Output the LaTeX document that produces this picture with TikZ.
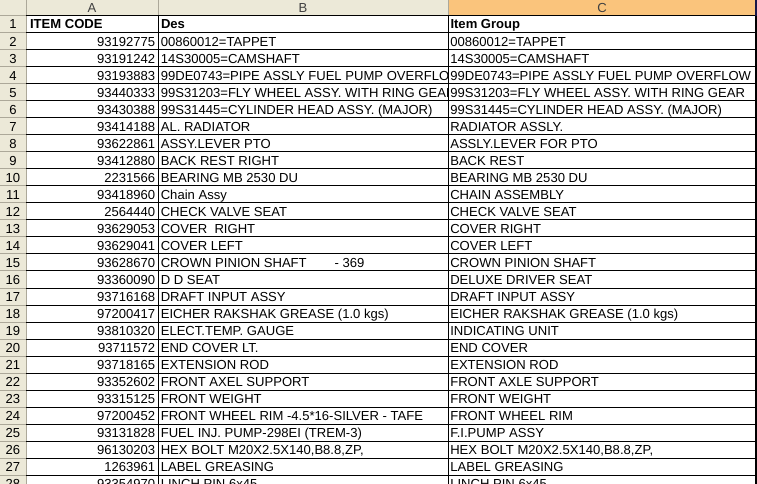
\documentclass[tikz,border=0pt]{standalone}
\usepackage{fontspec}
\setmainfont{Liberation Sans}
\definecolor{hdrgray}{RGB}{236,233,216}
\definecolor{hdrline}{RGB}{172,168,153}
\definecolor{selorange}{RGB}{250,196,124}
\definecolor{selnavy}{RGB}{24,24,72}
\begin{document}
\begin{tikzpicture}[x=0.75pt,y=-0.75pt,line width=0.75pt,
  every node/.style={inner sep=0pt,font=\fontsize{9.8}{11}\selectfont},
  headcell/.style={anchor=base west,font=\fontsize{9.8}{11}\selectfont\bfseries},
  hdrsep/.style={draw=hdrline}]
\pgfmathsetmacro{\hd}{15.7}
\pgfmathsetmacro{\rh}{17.02}
\pgfmathsetmacro{\bl}{13.3}
\useasboundingbox (0,0) rectangle (757,484);
\clip (0,0) rectangle (757,484);
\fill[hdrgray] (0,0) rectangle (757,\hd);
\fill[hdrgray] (0,0) rectangle (26,484);
\fill[selorange] (448,0) rectangle (757,\hd);
\draw[hdrsep] (26,0)--++(0,484) (158,0)--++(0,\hd) (448,0)--++(0,\hd);
\draw (158,\hd)--(158,484) (448,\hd)--(448,484);
\foreach \n in {1,...,28}{
  \pgfmathsetmacro{\yt}{\hd+(\n-1)*\rh}
  \draw[hdrsep] (0,\yt)--++(26,0);
  \draw (26,\yt)--(757,\yt);
  \node[anchor=base] (row-\n) at (13,\yt+\bl) {\n};
}
\draw[line width=1.5pt] (756,\hd)--(756,484);
\draw[selnavy,line width=1.5pt] (756,0)--(756,\hd);
\node[text=black!75] (colA) at (92,8) {A};
\node[text=black!75] (colB) at (303,8) {B};
\node[text=black!75] (colC) at (602,8) {C};
\node[headcell] (code-1) at (29.5,\hd+\bl) {ITEM CODE};
\node[headcell] (des-1) at (160.5,\hd+\bl) {Des};
\node[headcell] (grp-1) at (450,\hd+\bl) {Item Group};
\foreach \n/\code/\des/\grp in {
  2/93192775/00860012=TAPPET/00860012=TAPPET,
  3/93191242/14S30005=CAMSHAFT/14S30005=CAMSHAFT,
  4/93193883/99DE0743=PIPE ASSLY FUEL PUMP OVERFLOW/99DE0743=PIPE ASSLY FUEL PUMP OVERFLOW,
  5/93440333/99S31203=FLY WHEEL ASSY. WITH RING GEAR/99S31203=FLY WHEEL ASSY. WITH RING GEAR,
  6/93430388/99S31445=CYLINDER HEAD ASSY. (MAJOR)/99S31445=CYLINDER HEAD ASSY. (MAJOR),
  7/93414188/AL. RADIATOR/RADIATOR ASSLY.,
  8/93622861/ASSY.LEVER PTO/ASSLY.LEVER FOR PTO,
  9/93412880/BACK REST RIGHT/BACK REST,
  10/2231566/BEARING MB 2530 DU/BEARING MB 2530 DU,
  11/93418960/Chain Assy/CHAIN ASSEMBLY,
  12/2564440/CHECK VALVE SEAT/CHECK VALVE SEAT,
  13/93629053/COVER\ \ RIGHT/COVER RIGHT,
  14/93629041/COVER LEFT/COVER LEFT,
  15/93628670/CROWN PINION SHAFT\hspace{21pt}- 369/CROWN PINION SHAFT,
  16/93360090/D D SEAT/DELUXE DRIVER SEAT,
  17/93716168/DRAFT INPUT ASSY/DRAFT INPUT ASSY,
  18/97200417/EICHER RAKSHAK GREASE (1.0 kgs)/EICHER RAKSHAK GREASE (1.0 kgs),
  19/93810320/ELECT.TEMP. GAUGE/INDICATING UNIT,
  20/93711572/END COVER LT./END COVER,
  21/93718165/EXTENSION ROD/EXTENSION ROD,
  22/93352602/FRONT AXEL SUPPORT/FRONT AXLE SUPPORT,
  23/93315125/FRONT WEIGHT/FRONT WEIGHT,
  24/97200452/FRONT WHEEL RIM -4.5*16-SILVER - TAFE/FRONT WHEEL RIM,
  25/93131828/FUEL INJ. PUMP-298EI (TREM-3)/F.I.PUMP ASSY,
  26/96130203/{HEX BOLT M20X2.5X140,B8.8,ZP,}/{HEX BOLT M20X2.5X140,B8.8,ZP,},
  27/1263961/LABEL GREASING/LABEL GREASING,
  28/93354970/LINCH PIN 6x45/LINCH PIN 6x45}{
  \pgfmathsetmacro{\yb}{\hd+(\n-1)*\rh+\bl}
  \node[anchor=base east] (code-\n) at (155.7,\yb) {\code};
  \begin{scope}
    \clip (158.5,\yb-16) rectangle (447.5,\yb+6);
    \node[anchor=base west] (des-\n) at (160.3,\yb) {\des};
  \end{scope}
  \node[anchor=base west] (grp-\n) at (449.8,\yb) {\grp};
}
\end{tikzpicture}
\end{document}
